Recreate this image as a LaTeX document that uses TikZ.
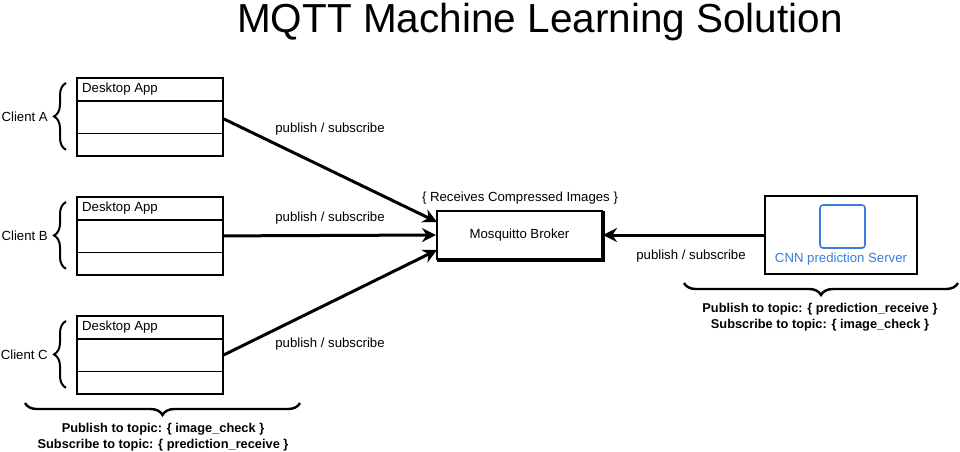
\documentclass[tikz,border=0pt]{standalone}
\usepackage{fontspec}
\setmainfont{Liberation Sans}
\usetikzlibrary{arrows.meta,decorations.pathreplacing,positioning}
\definecolor{cnnblue}{HTML}{3B7DDD}
\tikzset{
  appbox/.style={draw,line width=1.8pt,minimum width=146pt,minimum height=78pt,inner sep=0pt},
  lbl/.style={font=\fontsize{13.2}{15}\selectfont,inner sep=1pt},
  boldlbl/.style={font=\bfseries\fontsize{12.8}{15.5}\selectfont,inner sep=1pt,align=center},
  conn/.style={line width=3pt,-{Stealth[length=14pt,width=14pt]}},
  cbrace/.style={decorate,decoration={brace,amplitude=12pt,aspect=0.5},line width=2pt},
  bbrace/.style={decorate,decoration={brace,amplitude=12pt},line width=2.4pt},
}
\begin{document}
\begin{tikzpicture}[x=1pt,y=-1pt]
\useasboundingbox (0,0) rectangle (960,451);
\node[font=\fontsize{40.5}{46}\selectfont] (title) at (540,22) {MQTT Machine Learning Solution};

% client boxes
\foreach \n/\y/\c in {A/77/a,B/196/b,C/315/c}{
  \node[appbox,anchor=north west] (\c) at (76,\y) {};
  \draw[line width=1.2pt] ([yshift=-24pt]\c.north west) -- ([yshift=-24pt]\c.north east);
  \draw[line width=1.2pt] ([yshift=23pt]\c.south west) -- ([yshift=23pt]\c.south east);
  \node[lbl,anchor=west] (\c t) at ([xshift=5pt,yshift=-12pt]\c.north west) {Desktop App};
  \draw[cbrace] ([xshift=-10pt,yshift=7pt]\c.south west) -- ([xshift=-10pt,yshift=-6pt]\c.north west);
  \node[lbl,anchor=east] (\c l) at ([xshift=-27pt]\c.west) {Client \n};
}

% broker
\node[draw,line width=2pt,minimum width=165pt,minimum height=48pt,lbl] (broker) at (519.5,235) {Mosquitto Broker};
\draw[line width=2pt] ([xshift=1pt,yshift=-1pt]broker.south west) -- ([xshift=1pt,yshift=-1pt]broker.south east) -- ([xshift=1pt,yshift=-1pt]broker.north east);
\node[lbl] (recv) at (520,198) {\{ Receives Compressed Images \}};

% server
\node[draw,line width=1.4pt,minimum width=152pt,minimum height=78pt] (server) at (841,235) {};
\node[draw=cnnblue,line width=1.6pt,rounded corners=3pt,minimum width=45pt,minimum height=43pt] (icon) at (842.5,226.5) {};
\node[lbl,text=cnnblue] (srvt) at (841,259) {CNN prediction Server};

% connectors
\coordinate (ba) at (437,222);
\coordinate (bc) at (437,250);
\draw[conn] ([yshift=-2pt]a.east) -- (ba);
\draw[conn] (b.east) -- (broker.west);
\draw[conn] (c.east) -- (bc);
\draw[conn] (server.west |- broker.east) -- (broker.east);

\node[lbl] (pa) at (330,129) {publish / subscribe};
\node[lbl] (pb) at (330,218) {publish / subscribe};
\node[lbl] (pc) at (330,344) {publish / subscribe};
\node[lbl] (ps) at (691,256) {publish / subscribe};

% bottom braces
\coordinate (lb1) at (300,403);
\coordinate (lb2) at (25,403);
\draw[bbrace] (lb1) -- (lb2);
\node[boldlbl] (ltxt) at (163,437) {Publish to topic: \{ image\_check \}\\Subscribe to topic: \{ prediction\_receive \}};

\coordinate (rb1) at (958,283);
\coordinate (rb2) at (684,283);
\draw[bbrace] (rb1) -- (rb2);
\node[boldlbl] (rtxt) at (820,317) {Publish to topic: \{ prediction\_receive \}\\Subscribe to topic: \{ image\_check \}};
\end{tikzpicture}
\end{document}
